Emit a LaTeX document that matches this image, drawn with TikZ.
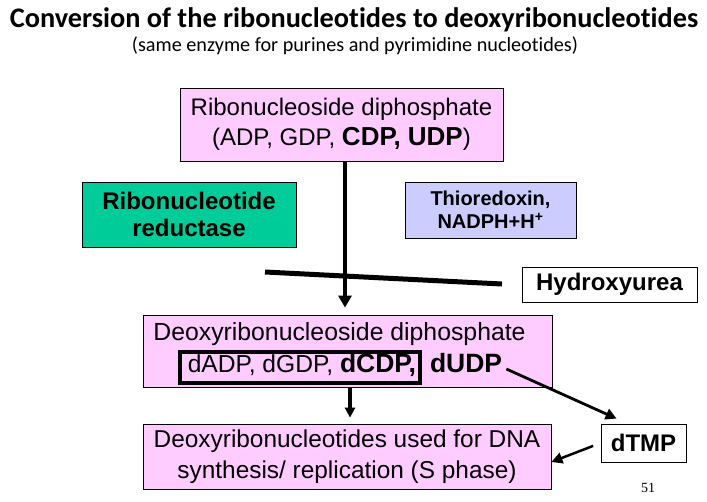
\documentclass[tikz,border=0pt]{standalone}
\usepackage{fontspec}
\setmainfont{Liberation Sans}
\newfontfamily\titlefont[Ligatures=NoCommon]{Carlito}
\newfontfamily\numfont{Liberation Serif}
\usetikzlibrary{arrows.meta,calc}

\definecolor{boxpink}{HTML}{FFCCFF}
\definecolor{enzgreen}{HTML}{00CC99}
\definecolor{cofblue}{HTML}{CCCCFF}

\newcommand\setfs[2]{\fontsize{#1}{#2}\selectfont}

\tikzset{
  stagebox/.style={draw, fill=boxpink, line width=0.8pt, inner sep=0pt, align=center},
  tagbox/.style={draw, line width=0.8pt, inner sep=0pt, align=center, font=\bfseries\setfs{24}{27}},
  bigarrow/.style={line width=4.5pt, -{Triangle[length=12pt,width=13pt]}},
  thinarrow/.style={line width=2.8pt, -{Triangle[length=11pt,width=11pt]}},
}

\begin{document}
\begin{tikzpicture}[x=1pt,y=-1pt]
  \useasboundingbox (0,0) rectangle (707,501);

  % Titles
  \node[font=\titlefont\bfseries\setfs{28.3}{30}, anchor=base] (title) at (354,27)
    {Conversion of the ribonucleotides to deoxyribonucleotides};
  \node[font=\titlefont\setfs{20.2}{22}, anchor=base] (subtitle) at (355,51)
    {(same enzyme for purines and pyrimidine nucleotides)};

  % Ribonucleoside diphosphates
  \node[stagebox, minimum width=323pt, minimum height=73pt, font=\setfs{24}{30}] (ribo) at (341.5,124.5)
    {Ribonucleoside diphosphate\\(ADP, GDP, {\bfseries\setfs{26}{30}CDP, UDP})};

  % Enzyme, cofactors and inhibitor
  \node[tagbox, fill=enzgreen, minimum width=214pt, minimum height=65pt] (rnr) at (189,214.5)
    {Ribonucleotide\\reductase};
  \node[tagbox, fill=cofblue, font=\bfseries\setfs{20}{23}, minimum width=171pt, minimum height=56pt] (trx) at (490.5,210)
    {Thioredoxin,\\NADPH+H\textsuperscript{+}};
  \node[tagbox, fill=white, minimum width=175pt, minimum height=35pt] (hu) at (609.5,284.5) {Hydroxyurea};

  % Deoxyribonucleoside diphosphates
  \node[stagebox, minimum width=409pt, minimum height=72pt] (dnd) at (347.5,351) {};
  \node[anchor=base, font=\setfs{24.8}{30}] (dndtitle) at (339.5,340) {Deoxyribonucleoside diphosphate};
  \node[draw, line width=3.5pt, anchor=base west, text height=19pt, text depth=10pt,
        inner ysep=1pt, inner xsep=4pt, font=\setfs{24.6}{30}] (dlist) at (178,372)
    {\hspace*{4pt}dADP, dGDP, {\bfseries\setfs{26.5}{30}dCDP,}};
  \node[anchor=base west, inner sep=0pt, font=\bfseries\setfs{26.5}{30}] (dudp) at ([xshift=8pt]dlist.base east) {dUDP};

  % Products
  \node[stagebox, minimum width=408pt, minimum height=65pt, font=\setfs{24.4}{31}] (dna) at (347,456.5)
    {Deoxyribonucleotides used for DNA\\synthesis/ replication (S phase)};
  \node[tagbox, fill=white, minimum width=85pt, minimum height=38pt] (dtmp) at (643.5,443) {dTMP};

  % Reduction arrow, blocked by hydroxyurea
  \coordinate (axis) at (345,0);
  \coordinate (barL) at (265,272);
  \coordinate (barR) at (502,284);
  \draw[bigarrow, shorten >=7pt] (ribo.south -| axis) -- (dnd.north -| axis);
  \draw[line width=5pt] (barL) -- (barR);

  % Downstream arrows
  \coordinate (axis2) at (350,0);
  \draw[line width=4pt, -{Triangle[length=10pt,width=10pt]}, shorten <=1pt, shorten >=6pt]
    (dnd.south -| axis2) -- (dna.north -| axis2);
  \draw[thinarrow] ([xshift=4pt,yshift=3pt]dudp.base east) -- ([xshift=16pt,yshift=5pt]dtmp.north west);
  \draw[thinarrow, line width=2.5pt, shorten <=8pt] (dtmp.west) -- ([yshift=-5.5pt]dna.east);

  \node[font=\numfont\setfs{14}{16}, anchor=base] (pagenum) at (648,492) {51};
\end{tikzpicture}
\end{document}
